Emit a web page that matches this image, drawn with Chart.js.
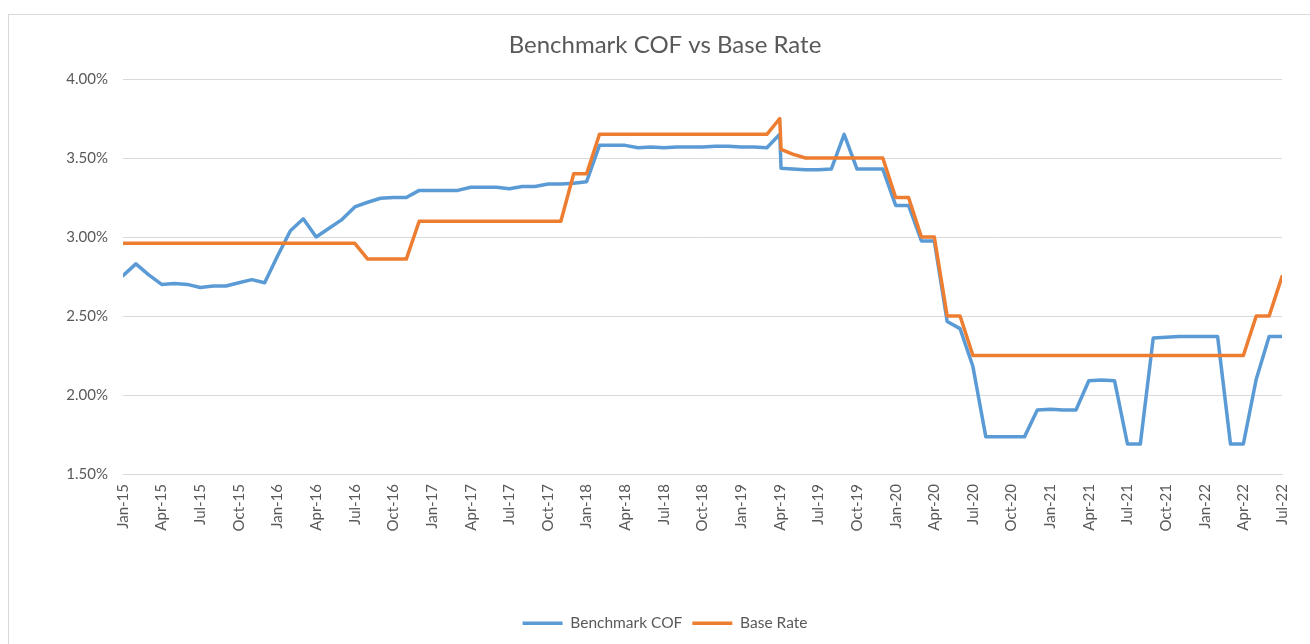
<!DOCTYPE html>
<html>
<head>
<meta charset="utf-8">
<script src="https://cdn.jsdelivr.net/npm/chart.js@4"></script>
<style>
  html, body { margin: 0; padding: 0; background: #fff; overflow: hidden; width: 1310px; height: 644px; }
  #frame { position: absolute; left: 8px; top: 14px; width: 1400px; height: 700px; border: 1px solid #d9d9d9; box-sizing: border-box; }
  #c { position: absolute; left: 40px; top: 0; }
</style>
</head>
<body>
<div id="frame"></div>
<canvas id="c" width="1270" height="644"></canvas>
<script>
// ---- data ----
const chartTitle = 'Benchmark COF vs Base Rate';
const seriesNames = ['Benchmark COF', 'Base Rate'];

const dates = [
  '2015-01','2015-02','2015-03','2015-04','2015-05','2015-06','2015-07','2015-08','2015-09','2015-10','2015-11','2015-12',
  '2016-01','2016-02','2016-03','2016-04','2016-05','2016-06','2016-07','2016-08','2016-09','2016-10','2016-11','2016-12',
  '2017-01','2017-02','2017-03','2017-04','2017-05','2017-06','2017-07','2017-08','2017-09','2017-10','2017-11','2017-12',
  '2018-01','2018-02','2018-03','2018-04','2018-05','2018-06','2018-07','2018-08','2018-09','2018-10','2018-11','2018-12',
  '2019-01','2019-02','2019-03','2019-04','2019-04-04','2019-05','2019-06','2019-07','2019-08','2019-09','2019-10','2019-11','2019-12',
  '2020-01','2020-02','2020-03','2020-04','2020-05','2020-06','2020-07','2020-08','2020-09','2020-10','2020-11','2020-12',
  '2021-01','2021-02','2021-03','2021-04','2021-05','2021-06','2021-07','2021-08','2021-09','2021-10','2021-11','2021-12',
  '2022-01','2022-02','2022-03','2022-04','2022-05','2022-06','2022-07'
];

const benchmarkCOF = [
  2.755, 2.83, 2.76, 2.70, 2.705, 2.70, 2.68, 2.69, 2.69, 2.71, 2.73, 2.71,
  2.88, 3.04, 3.115, 3.00, 3.055, 3.11, 3.19, 3.22, 3.245, 3.25, 3.25, 3.295,
  3.295, 3.295, 3.295, 3.315, 3.315, 3.315, 3.305, 3.32, 3.32, 3.335, 3.335, 3.34,
  3.35, 3.58, 3.58, 3.58, 3.565, 3.57, 3.565, 3.57, 3.57, 3.57, 3.575, 3.575,
  3.57, 3.57, 3.565, 3.65, 3.435, 3.43, 3.425, 3.425, 3.43, 3.65, 3.43, 3.43, 3.43,
  3.20, 3.20, 2.975, 2.975, 2.465, 2.42, 2.18, 1.735, 1.735, 1.735, 1.735, 1.905,
  1.91, 1.905, 1.905, 2.09, 2.095, 2.09, 1.69, 1.69, 2.36, 2.365, 2.37, 2.37,
  2.37, 2.37, 1.69, 1.69, 2.10, 2.37, 2.37
];

const baseRate = [
  2.96, 2.96, 2.96, 2.96, 2.96, 2.96, 2.96, 2.96, 2.96, 2.96, 2.96, 2.96,
  2.96, 2.96, 2.96, 2.96, 2.96, 2.96, 2.96, 2.86, 2.86, 2.86, 2.86, 3.10,
  3.10, 3.10, 3.10, 3.10, 3.10, 3.10, 3.10, 3.10, 3.10, 3.10, 3.10, 3.40,
  3.40, 3.65, 3.65, 3.65, 3.65, 3.65, 3.65, 3.65, 3.65, 3.65, 3.65, 3.65,
  3.65, 3.65, 3.65, 3.75, 3.555, 3.525, 3.50, 3.50, 3.50, 3.50, 3.50, 3.50, 3.50,
  3.25, 3.25, 3.00, 3.00, 2.50, 2.50, 2.25, 2.25, 2.25, 2.25, 2.25, 2.25,
  2.25, 2.25, 2.25, 2.25, 2.25, 2.25, 2.25, 2.25, 2.25, 2.25, 2.25, 2.25,
  2.25, 2.25, 2.25, 2.25, 2.50, 2.50, 2.75
];

const tickLabels = [
  'Jan-15','Apr-15','Jul-15','Oct-15','Jan-16','Apr-16','Jul-16','Oct-16',
  'Jan-17','Apr-17','Jul-17','Oct-17','Jan-18','Apr-18','Jul-18','Oct-18',
  'Jan-19','Apr-19','Jul-19','Oct-19','Jan-20','Apr-20','Jul-20','Oct-20',
  'Jan-21','Apr-21','Jul-21','Oct-21','Jan-22','Apr-22','Jul-22'
];
const tickStepMonths = 3;
const yTicks = [1.5, 2.0, 2.5, 3.0, 3.5, 4.0];

const colors = ['#5B9BD5', '#ED7D31'];

// ---- helpers ----
function monthPos(s) {
  const p = s.split('-').map(Number);
  return (p[0] - 2015) * 12 + (p[1] - 1) + (p[2] ? (p[2] - 1) / 30 : 0);
}
const xs = dates.map(monthPos);
const toPoints = vals => vals.map((v, i) => ({ x: xs[i], y: v }));

const FONT = 'Lato, "Open Sans", sans-serif';
const TXT = '#595959';
const LINE_W = 3.5;

new Chart(document.getElementById('c'), {
  type: 'line',
  data: {
    datasets: [
      { label: seriesNames[0], data: toPoints(benchmarkCOF), borderColor: colors[0], backgroundColor: colors[0],
        borderWidth: LINE_W, borderCapStyle: 'round', borderJoinStyle: 'round', order: 1 },
      { label: seriesNames[1], data: toPoints(baseRate), borderColor: colors[1], backgroundColor: colors[1],
        borderWidth: LINE_W, borderCapStyle: 'round', borderJoinStyle: 'round', order: 0 }
    ]
  },
  options: {
    responsive: false,
    animation: false,
    devicePixelRatio: 1,
    layout: { padding: { left: 0, right: 20, top: 0, bottom: 3 } },
    elements: {
      line: { tension: 0, fill: false },
      point: { radius: 0, hoverRadius: 0 }
    },
    plugins: {
      title: {
        display: true, text: chartTitle, color: TXT,
        font: { family: FONT, size: 24, weight: 'normal', lineHeight: 1.2 },
        padding: { top: 31, bottom: 19.2 }
      },
      legend: {
        position: 'bottom',
        labels: {
          color: TXT, font: { family: FONT, size: 15.5 },
          usePointStyle: true, pointStyle: 'line', pointStyleWidth: 40,
          padding: 10,
          sort: (a, b) => a.datasetIndex - b.datasetIndex
        }
      },
      tooltip: { enabled: false }
    },
    scales: {
      x: {
        type: 'linear', min: 0, max: (tickLabels.length - 1) * tickStepMonths,
        afterBuildTicks: s => { s.ticks = tickLabels.map((t, i) => ({ value: i * tickStepMonths })); },
        ticks: {
          autoSkip: false, minRotation: 90, maxRotation: 90, padding: 10,
          color: TXT, font: { family: FONT, size: 15 },
          callback: v => tickLabels[Math.round(v / tickStepMonths)]
        },
        grid: { display: false, drawTicks: false, tickLength: 0 },
        border: { display: true, color: '#d9d9d9', width: 1 },
        afterFit: s => { s.height = 131.5; }
      },
      y: {
        min: yTicks[0], max: yTicks[yTicks.length - 1],
        afterBuildTicks: s => { s.ticks = yTicks.map(v => ({ value: v })); },
        ticks: {
          padding: 15, color: TXT, font: { family: FONT, size: 15 },
          callback: v => v.toFixed(2) + '%'
        },
        grid: { color: '#d9d9d9', drawTicks: false, tickLength: 0, lineWidth: 1 },
        border: { display: false },
        afterFit: s => { s.width = 83; }
      }
    }
  }
});
</script>
</body>
</html>
